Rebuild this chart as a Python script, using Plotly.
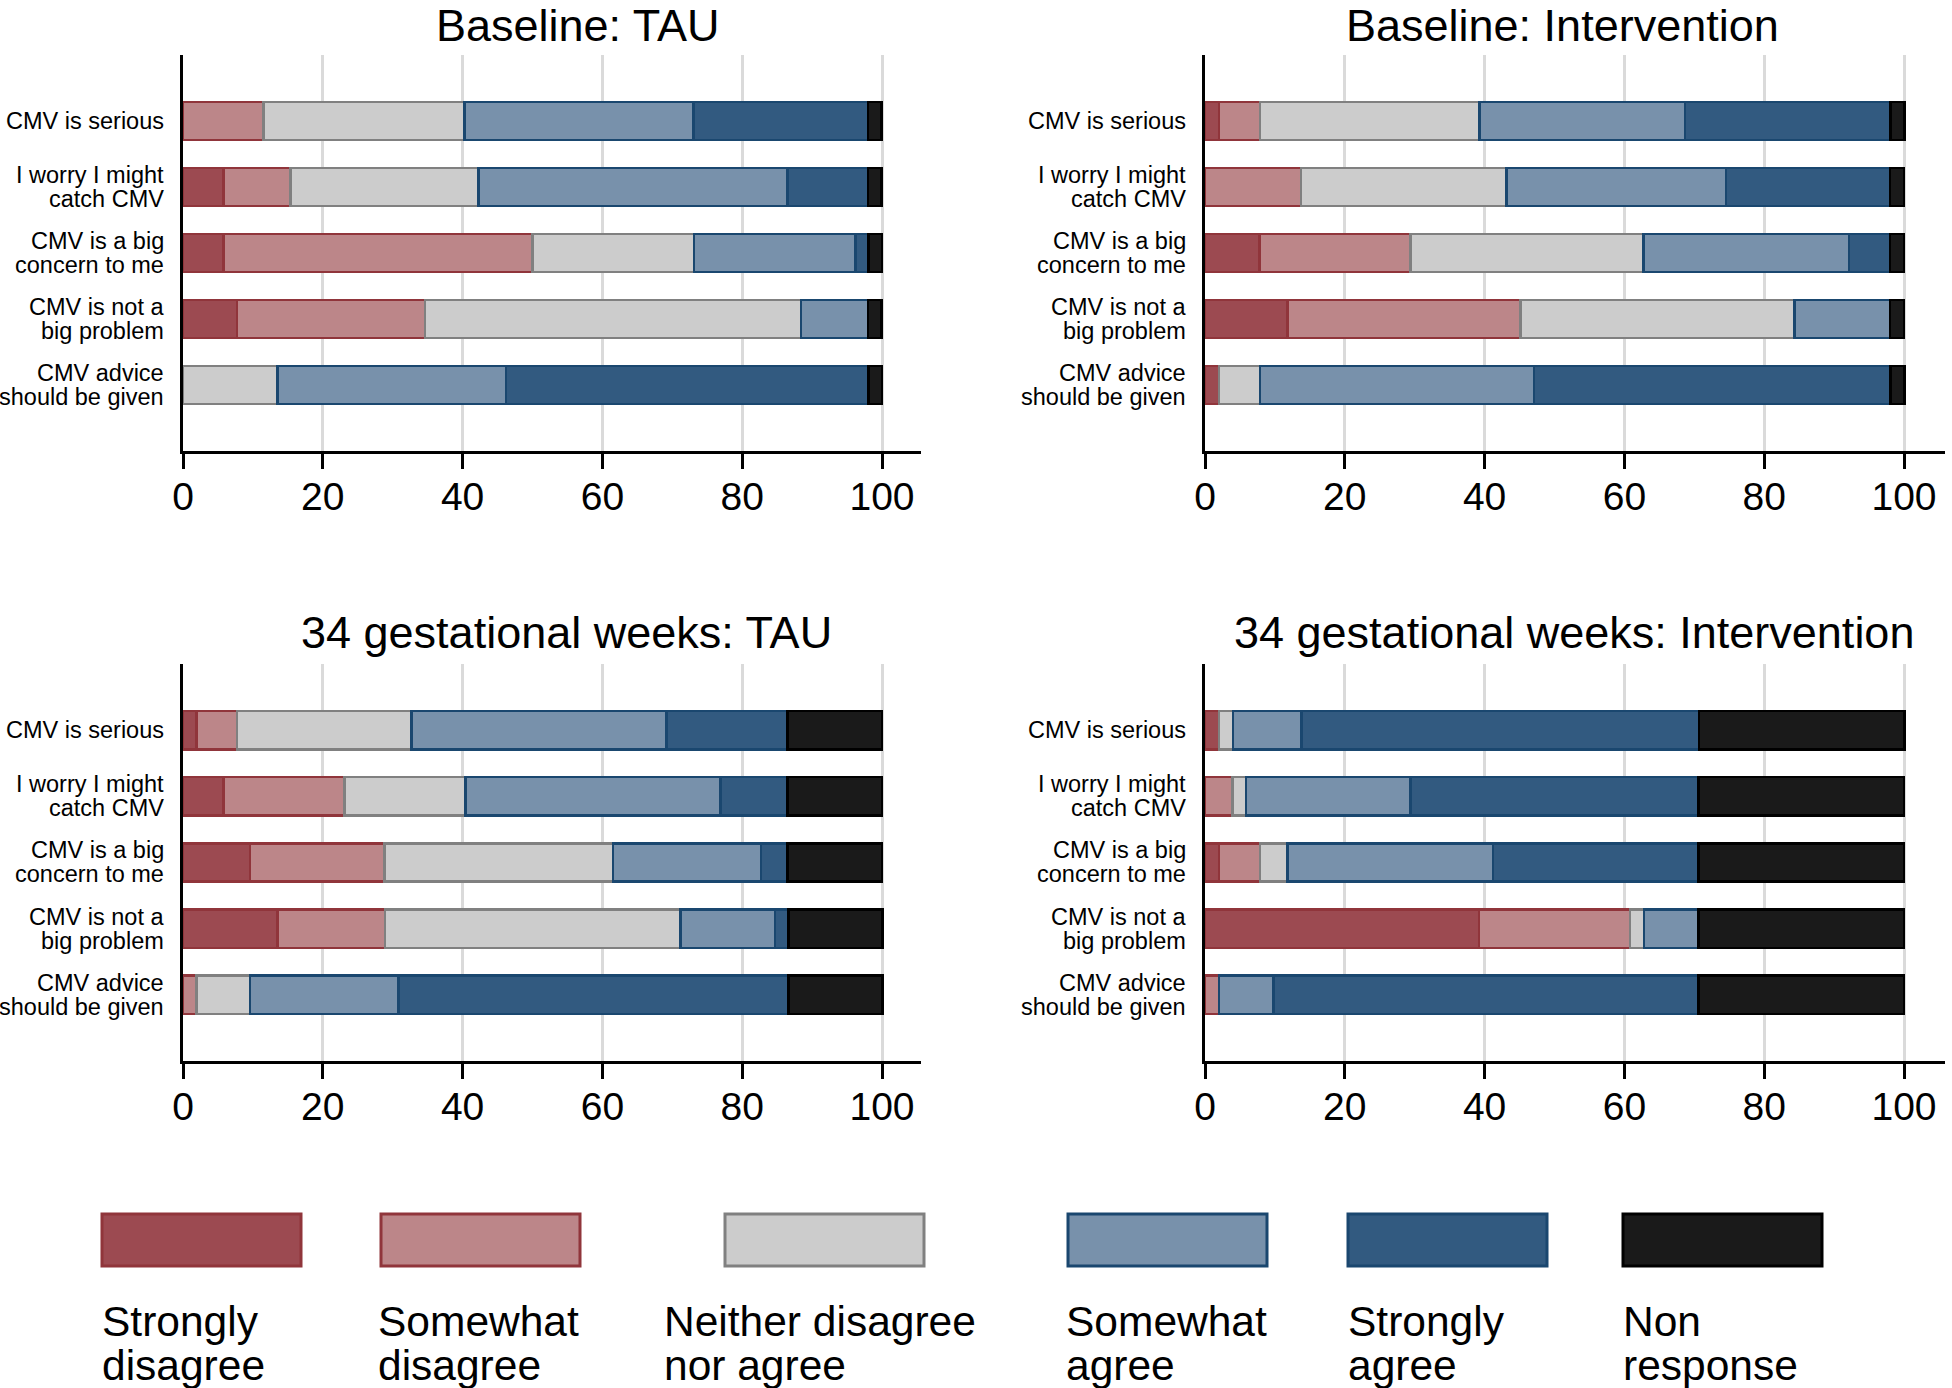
import plotly.graph_objects as go

# ---------- data (percent of respondents) ----------------------------------
statements = [
    "CMV is serious",
    "I worry I might\ncatch CMV",
    "CMV is a big\nconcern to me",
    "CMV is not a\nbig problem",
    "CMV advice\nshould be given",
]
responses = [
    "Strongly\ndisagree",
    "Somewhat\ndisagree",
    "Neither disagree\nnor agree",
    "Somewhat\nagree",
    "Strongly\nagree",
    "Non\nresponse",
]
panel_titles = [
    "Baseline: TAU",
    "Baseline: Intervention",
    "34 gestational weeks: TAU",
    "34 gestational weeks: Intervention",
]

# one row per response category, one value per statement
baseline_tau = [
    [0, 5.8, 5.8, 7.7, 0],
    [11.5, 9.6, 44.2, 26.9, 0],
    [28.8, 26.9, 23.1, 53.8, 13.5],
    [32.7, 44.2, 23.1, 9.6, 32.7],
    [25.0, 11.5, 1.9, 0, 51.9],
    [1.9, 1.9, 1.9, 1.9, 1.9],
]
baseline_int = [
    [2.0, 0, 7.8, 11.8, 2.0],
    [5.9, 13.7, 21.6, 33.3, 0],
    [31.4, 29.4, 33.3, 39.2, 5.9],
    [29.4, 31.4, 29.4, 13.7, 39.2],
    [29.4, 23.5, 5.9, 0, 51.0],
    [2.0, 2.0, 2.0, 2.0, 2.0],
]
week34_tau = [
    [1.9, 5.8, 9.6, 13.5, 0],
    [5.8, 17.3, 19.2, 15.4, 1.9],
    [25.0, 17.3, 32.7, 42.3, 7.7],
    [36.5, 36.5, 21.2, 13.5, 21.2],
    [17.3, 9.6, 3.8, 1.9, 55.8],
    [13.5, 13.5, 13.5, 13.5, 13.5],
]
week34_int = [
    [2.0, 0, 2.0, 39.2, 0],
    [0, 3.9, 5.9, 21.6, 2.0],
    [2.0, 2.0, 3.9, 2.0, 0],
    [9.8, 23.5, 29.4, 7.8, 7.8],
    [56.9, 41.2, 29.4, 0, 60.8],
    [29.4, 29.4, 29.4, 29.4, 29.4],
]
panels = [baseline_tau, baseline_int, week34_tau, week34_int]

fill_colors = ["#9C4A51", "#BC8689", "#CCCCCC", "#7891AB", "#325A80", "#1A1A1A"]
line_colors = ["#90353B", "#90353B", "#808080", "#1A476F", "#1A476F", "#000000"]

# ---------- layout helpers (pixel positions in the 1952x1388 page) --------
W, H = 1952, 1388
FONT = "Liberation Sans, Arial, sans-serif"


def fx(px):
    return px / W


def fy(py):
    return 1 - py / H


x_doms = [(183, 921), (1205, 1945)]
y_doms = [(55, 451), (664, 1061)]
title_x = [577, 1562, 566, 1574]
title_y = [25, 633]
ypos = [1, 2, 3, 4, 5]

fig = go.Figure()
annotations = []
shapes = []

for p, data in enumerate(panels):
    col, row = p % 2, p // 2
    ax = "" if p == 0 else str(p + 1)
    for k, vals in enumerate(data):
        fig.add_trace(go.Bar(
            x=[v if v > 0 else None for v in vals],
            y=ypos,
            orientation="h",
            width=0.58,
            marker=dict(color=fill_colors[k], line=dict(color=line_colors[k], width=2.5)),
            name=responses[k].replace("\n", " "),
            showlegend=False,
            xaxis="x" + ax,
            yaxis="y" + ax,
        ))

    x0, x1 = x_doms[col]
    y0, y1 = y_doms[row]
    fig.layout["xaxis" + ax] = dict(
        domain=[fx(x0), fx(x1)],
        range=[0, 100 * (x1 - x0) / 699],
        anchor="y" + ax,
        automargin=False,
        tickvals=[0, 20, 40, 60, 80, 100],
        ticks="outside", ticklen=15, tickwidth=3, tickcolor="black",
        ticklabelstandoff=-6,
        showline=True, linecolor="black", linewidth=3,
        showgrid=True, gridcolor="#DADADA", gridwidth=2.5,
        zeroline=False,
        tickfont=dict(family=FONT, size=39, color="black"),
    )
    fig.layout["yaxis" + ax] = dict(
        domain=[fy(y1), fy(y0)],
        range=[6, 0],
        anchor="x" + ax,
        automargin=False,
        showticklabels=False, ticks="",
        showline=True, linecolor="black", linewidth=3,
        showgrid=False, zeroline=False,
    )

    # statement labels, line by line for tight spacing
    for i, s in enumerate(statements):
        lines = s.split("\n")
        n = len(lines)
        for j, ln in enumerate(lines):
            annotations.append(dict(
                text=ln, xref="paper", yref="y" + ax,
                x=fx(x0 - 17), y=ypos[i], yshift=(n - 1) * 12 - j * 24,
                xanchor="right", yanchor="middle", showarrow=False,
                font=dict(family=FONT, size=23.5, color="black"),
            ))

    annotations.append(dict(
        text=panel_titles[p], xref="paper", yref="paper",
        x=fx(title_x[p]), y=fy(title_y[row]),
        xanchor="center", yanchor="middle", showarrow=False,
        font=dict(family=FONT, size=45, color="black"),
    ))

# ---------- legend drawn as boxes with two-line labels ---------------------
legend_x = [102, 381, 725, 1068, 1348, 1623]
label_x = [100, 376, 662, 1064, 1346, 1621]
box_w = 199
for k, lab in enumerate(responses):
    lx = legend_x[k]
    shapes.append(dict(
        type="rect", xref="paper", yref="paper",
        x0=fx(lx), x1=fx(lx + box_w), y0=fy(1266), y1=fy(1214),
        fillcolor=fill_colors[k], line=dict(color=line_colors[k], width=3),
    ))
    for j, ln in enumerate(lab.split("\n")):
        annotations.append(dict(
            text=ln, xref="paper", yref="paper",
            x=fx(label_x[k]), y=fy(1321 + 44 * j),
            xanchor="left", yanchor="middle", showarrow=False,
            font=dict(family=FONT, size=42.5, color="black"),
        ))

fig.update_layout(
    width=W, height=H,
    margin=dict(l=0, r=0, t=0, b=0, autoexpand=False),
    barmode="stack",
    paper_bgcolor="white", plot_bgcolor="white",
    annotations=annotations,
    shapes=shapes,
    font=dict(family=FONT),
    hovermode=False,
)

# drop the browser's default 8px body margin so the page lines up
fig.write_html(
    "out.html",
    config={"displayModeBar": False},
    post_script="document.body.style.margin = '0';",
)
